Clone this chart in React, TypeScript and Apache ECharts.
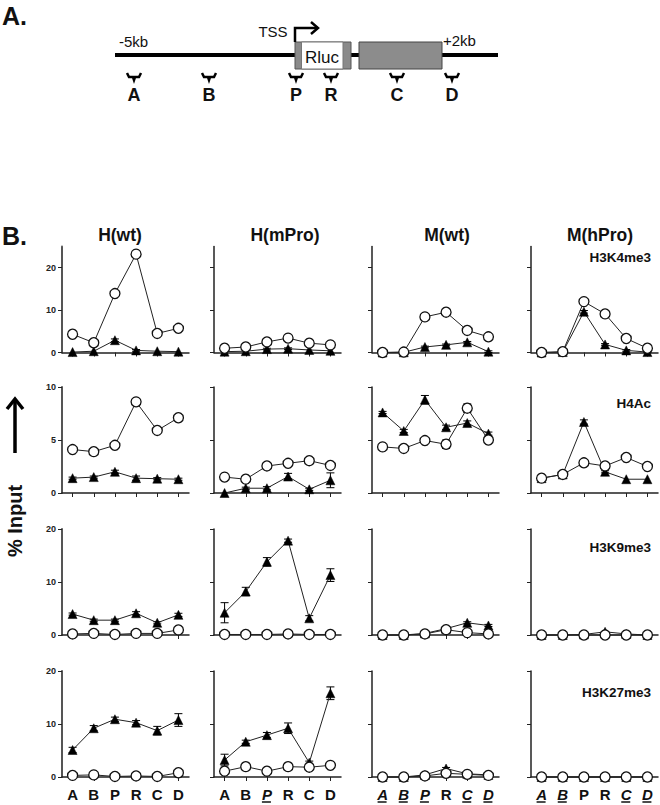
import React, { useEffect, useRef } from 'react';
import * as echarts from 'echarts';

const categories = ['A', 'B', 'P', 'R', 'C', 'D'];
const columnTitles = ['H(wt)', 'H(mPro)', 'M(wt)', 'M(hPro)'];
const markNames = ['H3K4me3', 'H4Ac', 'H3K9me3', 'H3K27me3'];
const rowMax = [25, 10, 20, 20];
const rowTicks = [[0, 10, 20], [0, 5, 10], [0, 10, 20], [0, 10, 20]];
// which bottom-row labels are italic + underlined, per column
const bottomLabelItalic = [
  [0, 0, 0, 0, 0, 0],
  [0, 0, 1, 0, 0, 0],
  [1, 1, 1, 0, 1, 1],
  [1, 1, 0, 0, 1, 1],
];
const probeNames = ['A', 'B', 'P', 'R', 'C', 'D'];

// H3K4me3 (columns: H(wt), H(mPro), M(wt), M(hPro))
const h3k4me3Open = [
  [4.3, 2.3, 13.9, 23.2, 4.5, 5.7],
  [1.0, 1.3, 2.5, 3.4, 2.2, 1.8],
  [0, 0.1, 8.4, 9.5, 5.2, 3.7],
  [0, 0.2, 12.0, 9.1, 3.3, 1.0],
];
const h3k4me3Filled = [
  [0.1, 0.3, 2.9, 0.5, 0.3, 0.2],
  [0.2, 0.3, 0.8, 0.9, 0.6, 0.4],
  [0, 0.05, 1.3, 1.8, 2.4, 0.2],
  [0, 0.1, 9.6, 1.9, 0.5, 0.1],
];
const h3k4me3OpenErr = [
  [0, 0, 0, 0, 0, 0], [0, 0, 0, 0, 0, 0], [0, 0, 0, 0, 0, 0], [0, 0, 0, 0, 0, 0],
];
const h3k4me3FilledErr = [
  [0, 0, 0.3, 0.2, 0, 0], [0, 0, 0.2, 0.2, 0, 0], [0, 0, 0.2, 0.2, 0.2, 0.2], [0, 0, 0.3, 0.2, 0.2, 0.1],
];

// H4Ac
const h4acOpen = [
  [4.1, 3.9, 4.5, 8.6, 5.9, 7.1],
  [1.5, 1.3, 2.55, 2.8, 3.05, 2.6],
  [4.35, 4.2, 4.95, 4.6, 8.0, 5.0],
  [1.4, 1.75, 2.85, 2.55, 3.35, 2.5],
];
const h4acFilled = [
  [1.4, 1.5, 2.0, 1.4, 1.35, 1.3],
  [0, 0.45, 0.45, 1.55, 0.35, 1.2],
  [7.6, 5.85, 8.8, 6.2, 6.6, 5.6],
  [1.4, 1.75, 6.7, 2.0, 1.3, 1.3],
];
const h4acOpenErr = [
  [0, 0, 0, 0, 0, 0], [0, 0, 0, 0, 0, 0], [0.15, 0, 0.1, 0.4, 0.4, 0.1], [0, 0, 0, 0, 0, 0],
];
const h4acFilledErr = [
  [0.1, 0.1, 0.15, 0.2, 0.1, 0.1], [0, 0.1, 0.15, 0.3, 0.1, 0.7], [0.1, 0.15, 0.4, 0.2, 0.2, 0.15], [0, 0, 0.2, 0.1, 0, 0],
];

// H3K9me3
const h3k9me3Open = [
  [0.2, 0.3, 0.1, 0.3, 0.3, 0.95],
  [0.1, 0.1, 0.1, 0.2, 0.1, 0.1],
  [0, 0, 0.2, 1.0, 0.45, 0.2],
  [0, 0, 0, 0, 0, 0],
];
const h3k9me3Filled = [
  [3.95, 2.8, 2.8, 4.1, 2.3, 3.8],
  [4.2, 8.2, 13.8, 17.8, 3.15, 11.3],
  [0, 0, 0.3, 1.2, 2.3, 1.8],
  [0, 0, 0.1, 0.6, 0.2, 0],
];
const h3k9me3OpenErr = [
  [0, 0, 0, 0, 0, 0], [0, 0, 0, 0, 0, 0], [0, 0, 0, 0, 0, 0], [0, 0, 0, 0, 0, 0],
];
const h3k9me3FilledErr = [
  [0.2, 0.2, 0.2, 0.3, 0.2, 0.3], [1.9, 0.8, 0.8, 0.3, 0.5, 1.2], [0, 0, 0, 0.2, 0.2, 0.2], [0, 0, 0, 0, 0, 0],
];

// H3K27me3
const h3k27me3Open = [
  [0.3, 0.4, 0.1, 0.2, 0.1, 0.8],
  [1.1, 1.95, 1.1, 1.95, 1.85, 2.2],
  [0, 0, 0.2, 0.7, 0.5, 0.3],
  [0, 0, 0, 0, 0, 0],
];
const h3k27me3Filled = [
  [5.1, 9.2, 10.9, 10.25, 8.75, 10.75],
  [3.2, 6.65, 7.9, 9.2, 2.7, 15.8],
  [0, 0, 0.4, 1.6, 0.6, 0.4],
  [0, 0, 0, 0, 0, 0],
];
const h3k27me3OpenErr = [
  [0, 0, 0, 0, 0, 0], [0, 0, 0, 0, 0, 0], [0, 0, 0, 0, 0, 0], [0, 0, 0, 0, 0, 0],
];
const h3k27me3FilledErr = [
  [0.5, 0.5, 0.4, 0.4, 0.8, 1.2], [1.1, 0.3, 0.5, 1.0, 0.3, 1.2], [0, 0, 0, 0.2, 0, 0], [0, 0, 0, 0, 0, 0],
];

const rowsOpen = [h3k4me3Open, h4acOpen, h3k9me3Open, h3k27me3Open];
const rowsFilled = [h3k4me3Filled, h4acFilled, h3k9me3Filled, h3k27me3Filled];
const rowsOpenErr = [h3k4me3OpenErr, h4acOpenErr, h3k9me3OpenErr, h3k27me3OpenErr];
const rowsFilledErr = [h3k4me3FilledErr, h4acFilledErr, h3k9me3FilledErr, h3k27me3FilledErr];

const FONT = '"Liberation Sans", Arial, Helvetica, sans-serif';
const colLefts = [62, 214, 372, 531];
const rowTops = [246.5, 387, 529, 671];
const gridW = 127;
const gridH = 106;

function txt(id: string, x: number, y: number, text: string, size: number, opts: any = {}) {
  const align = opts.align || 'left';
  const va = opts.va || 'middle';
  return {
    type: 'text',
    id,
    x,
    y,
    rotation: opts.rotation || 0,
    style: {
      text,
      fill: opts.color || '#111',
      fontSize: size,
      fontWeight: opts.weight || 'bold',
      fontFamily: FONT,
      align,
      verticalAlign: va,
      textAlign: align,
      textVerticalAlign: va,
    },
  };
}

function errRender(params: any, api: any) {
  const i = api.value(0);
  const v = api.value(1);
  const e = api.value(2);
  if (!e) return null;
  const p1 = api.coord([i, v + e]);
  const p2 = api.coord([i, Math.max(0, v - e)]);
  const w = 4;
  const st = { stroke: '#000', lineWidth: 1 };
  return {
    type: 'group',
    children: [
      { type: 'line', shape: { x1: p1[0], y1: p1[1], x2: p2[0], y2: p2[1] }, style: st },
      { type: 'line', shape: { x1: p1[0] - w, y1: p1[1], x2: p1[0] + w, y2: p1[1] }, style: st },
      { type: 'line', shape: { x1: p2[0] - w, y1: p2[1], x2: p2[0] + w, y2: p2[1] }, style: st },
    ],
  };
}

function baseGraphics(): any[] {
  const g: any[] = [];
  g.push(txt('titleA', 2, 3, 'A.', 25, { va: 'top' }));
  // gene line
  g.push({ type: 'line', id: 'gene', shape: { x1: 115, y1: 55, x2: 498, y2: 55 }, style: { stroke: '#000', lineWidth: 4 } });
  g.push({ type: 'rect', id: 'rlucOuter', shape: { x: 295, y: 42, width: 56, height: 27 }, style: { fill: '#8a8a8a', stroke: '#555', lineWidth: 1 } });
  g.push({ type: 'rect', id: 'rlucInner', shape: { x: 301.5, y: 42, width: 41.5, height: 27 }, style: { fill: '#fff', stroke: '#777', lineWidth: 1 } });
  g.push({ type: 'rect', id: 'bigBox', shape: { x: 359, y: 42, width: 83, height: 27 }, style: { fill: '#8c8c8c', stroke: '#444', lineWidth: 1 } });
  g.push(txt('m5kb', 119, 41, '-5kb', 15, { weight: 'normal' }));
  g.push(txt('p2kb', 443, 40, '+2kb', 15, { weight: 'normal' }));
  g.push(txt('tss', 273, 31, 'TSS', 15, { weight: 'normal', align: 'center' }));
  g.push(txt('rluc', 322, 57, 'Rluc', 17, { weight: 'normal', align: 'center' }));
  g.push({ type: 'polyline', id: 'tssArrow', shape: { points: [[295, 42], [295, 28], [318, 28]] }, style: { stroke: '#000', lineWidth: 2.5, fill: 'none' } });
  g.push({ type: 'polyline', id: 'tssHead', shape: { points: [[311, 22], [318, 28], [311, 34]] }, style: { stroke: '#000', lineWidth: 2.5, fill: 'none' } });
  const probeX = [134, 209, 296, 331, 397, 452];
  probeNames.forEach((n, i) => {
    const x = probeX[i];
    g.push({
      type: 'polyline', id: 'br' + i,
      shape: { points: [[x - 7, 73], [x - 5, 77], [x - 1, 77], [x, 80], [x + 1, 77], [x + 5, 77], [x + 7, 73]] },
      style: { stroke: '#000', lineWidth: 2.5, fill: 'none' },
    });
    g.push(txt('pn' + i, x, 95, n, 18, { align: 'center' }));
  });
  g.push(txt('titleB', 2, 223, 'B.', 25, { va: 'top' }));
  const titleX = [120, 285, 447, 600];
  columnTitles.forEach((t, i) => g.push(txt('ct' + i, titleX[i], 235, t, 17.5, { align: 'center' })));
  const markY = [257, 403, 547, 692];
  markNames.forEach((t, i) => g.push(txt('mk' + i, 651, markY[i], t, 13.5, { align: 'right' })));
  g.push({ type: 'line', id: 'upShaft', shape: { x1: 15, y1: 453, x2: 15, y2: 400 }, style: { stroke: '#000', lineWidth: 3.5 } });
  g.push({ type: 'polyline', id: 'upHead', shape: { points: [[7, 409], [15, 399], [23, 409]] }, style: { stroke: '#000', lineWidth: 3.5, fill: 'none' } });
  g.push(txt('ylab', 15, 521, '% Input', 20, { align: 'center', rotation: Math.PI / 2 }));
  return g;
}

function buildOption(extraGraphics: any[]) {
  const grid: any[] = [];
  const xAxis: any[] = [];
  const yAxis: any[] = [];
  const series: any[] = [];
  for (let r = 0; r < 4; r++) {
    for (let c = 0; c < 4; c++) {
      const idx = r * 4 + c;
      grid.push({ left: colLefts[c], top: rowTops[r], width: gridW, height: gridH, containLabel: false, outerBoundsMode: 'none' });
      const isBottom = r === 3;
      xAxis.push({
        type: 'category', gridIndex: idx, data: categories, boundaryGap: true,
        axisLine: { show: true, onZero: false, lineStyle: { color: '#222', width: 1.5 } },
        axisTick: { show: true, alignWithLabel: true, interval: 0, length: 4, lineStyle: { color: '#222', width: 1 } },
        axisLabel: {
          show: isBottom, interval: 0, margin: 10,
          formatter: (v: string, i: number) => (bottomLabelItalic[c][i] ? `{i|${v}}` : `{n|${v}}`),
          rich: {
            i: { fontStyle: 'italic', fontWeight: 'bold', fontSize: 15, fontFamily: FONT, color: '#111' },
            n: { fontWeight: 'bold', fontSize: 15, fontFamily: FONT, color: '#111' },
          },
        },
        splitLine: { show: false },
      });
      yAxis.push({
        type: 'value', gridIndex: idx, min: 0, max: rowMax[r], interval: rowTicks[r][1],
        axisLine: { show: true, lineStyle: { color: c === 0 ? '#555' : '#222', width: c === 0 ? 2 : 1.5 } },
        axisTick: { show: true, length: 4, customValues: rowTicks[r], lineStyle: { color: '#222', width: 1 } },
        axisLabel: { show: c === 0, customValues: rowTicks[r], fontSize: 9, fontWeight: 'bold', fontFamily: FONT, color: '#222', margin: 6 },
        splitLine: { show: false },
      });
      const fe = rowsFilledErr[r][c];
      const oe = rowsOpenErr[r][c];
      const fv = rowsFilled[r][c];
      const ov = rowsOpen[r][c];
      series.push({
        type: 'custom', xAxisIndex: idx, yAxisIndex: idx, renderItem: errRender, z: 2, clip: false,
        encode: { x: 0, y: 1 },
        data: categories.map((_, i) => [i, fv[i], fe[i]]),
      });
      series.push({
        type: 'custom', xAxisIndex: idx, yAxisIndex: idx, renderItem: errRender, z: 2, clip: false,
        encode: { x: 0, y: 1 },
        data: categories.map((_, i) => [i, ov[i], oe[i]]),
      });
      series.push({
        type: 'line', xAxisIndex: idx, yAxisIndex: idx, data: fv, symbol: 'triangle', symbolSize: 9,
        showAllSymbol: true, clip: false, z: 3,
        itemStyle: { color: '#000', borderColor: '#000', borderWidth: 0.5 },
        lineStyle: { color: '#222', width: 1 },
      });
      series.push({
        type: 'line', xAxisIndex: idx, yAxisIndex: idx, data: ov, symbol: 'circle', symbolSize: 10,
        showAllSymbol: true, clip: false, z: 4,
        itemStyle: { color: '#fff', borderColor: '#111', borderWidth: 1.3 },
        lineStyle: { color: '#222', width: 1 },
      });
    }
  }
  return {
    animation: false,
    backgroundColor: '#fff',
    grid, xAxis, yAxis, series,
    graphic: [...baseGraphics(), ...extraGraphics],
  };
}

export default function App() {
  const ref = useRef<HTMLDivElement>(null);
  useEffect(() => {
    if (!ref.current) return;
    const chart = echarts.init(ref.current, null, { renderer: 'svg' });
    chart.setOption(buildOption([]) as any);
    // underline italic probe labels on the bottom row (positions from the axes)
    const under: any[] = [];
    for (let c = 0; c < 4; c++) {
      const idx = 12 + c;
      const y0 = chart.convertToPixel({ yAxisIndex: idx } as any, 0) as any as number;
      bottomLabelItalic[c].forEach((f, i) => {
        if (!f) return;
        const x = chart.convertToPixel({ xAxisIndex: idx } as any, i) as any as number;
        under.push({
          type: 'line', id: `ul${c}_${i}`,
          shape: { x1: x - 5, y1: y0 + 25, x2: x + 4, y2: y0 + 25 },
          style: { stroke: '#111', lineWidth: 1.5 },
        });
      });
    }
    chart.setOption(buildOption(under) as any);
    return () => chart.dispose();
  }, []);
  return <div ref={ref} style={{ position: 'fixed', left: 0, top: 0, width: 660, height: 805, background: '#fff' }} />;
}
